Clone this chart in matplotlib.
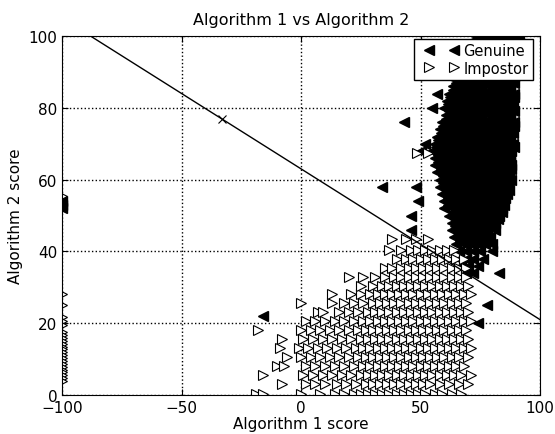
import numpy as np
import matplotlib
matplotlib.use("Agg")
import matplotlib.pyplot as plt
from matplotlib.legend_handler import HandlerLine2D

# Genuine scores (filled triangles)
gen_row_y = [100, 99, 98, 97, 96, 95, 94, 93, 92, 91, 90, 89, 88, 87, 86, 85, 84, 83, 82, 81,
             80, 79, 78, 77, 76, 75, 74, 73, 72, 71, 70, 69, 68, 67, 66, 65, 64, 63, 62, 61,
             60, 59, 58, 57, 56, 55, 54, 53, 52, 51, 50, 49, 48, 47, 46, 45, 44, 43, 42,
             40, 38, 36, 34, 25, 22, 20]
gen_row_x = [
    [73, 76, 79, 82, 85, 88, 91],
    [72.5, 75.5, 78.5, 81.5, 84.5, 87.5, 90],
    [71, 74, 77, 80, 83, 86, 89],
    [71, 74, 77, 80, 83, 86, 89],
    [69.5, 72.5, 75.5, 78.5, 81.5, 84.5, 87.5],
    [69.5, 72.5, 75.5, 78.5, 81.5, 84.5, 87.5],
    [68, 71, 74, 77, 80, 83, 86, 89],
    [68.5, 71.5, 74.5, 77.5, 80.5, 83.5, 86.5, 89],
    [67, 70, 73, 76, 79, 82, 85, 88],
    [67, 70, 73, 76, 79, 82, 85, 88],
    [65.5, 68.5, 71.5, 74.5, 77.5, 80.5, 83.5, 86.5, 89],
    [65.5, 68.5, 71.5, 74.5, 77.5, 80.5, 83.5, 86.5, 89],
    [64, 67, 70, 73, 76, 79, 82, 85, 88],
    [65, 68, 71, 74, 77, 80, 83, 86, 89],
    [63.5, 66.5, 69.5, 72.5, 75.5, 78.5, 81.5, 84.5, 87.5],
    [63.5, 66.5, 69.5, 72.5, 75.5, 78.5, 81.5, 84.5, 87.5],
    [57, 62, 65, 68, 71, 74, 77, 80, 83, 86, 89],
    [62.5, 65.5, 68.5, 71.5, 74.5, 77.5, 80.5, 83.5, 86.5, 89],
    [61, 64, 67, 70, 73, 76, 79, 82, 85, 88],
    [61.5, 64.5, 67.5, 70.5, 73.5, 76.5, 79.5, 82.5, 85.5, 88.5],
    [55, 60, 63, 66, 69, 72, 75, 78, 81, 84, 87],
    [62, 65, 68, 71, 74, 77, 80, 83, 86, 89],
    [60.5, 63.5, 66.5, 69.5, 72.5, 75.5, 78.5, 81.5, 84.5, 87.5],
    [60.5, 63.5, 66.5, 69.5, 72.5, 75.5, 78.5, 81.5, 84.5, 87.5],
    [43, 59, 62, 65, 68, 71, 74, 77, 80, 83, 86, 89],
    [59.5, 62.5, 65.5, 68.5, 71.5, 74.5, 77.5, 80.5, 83.5, 86.5, 89],
    [58, 61, 64, 67, 70, 73, 76, 79, 82, 85, 88],
    [58.5, 61.5, 64.5, 67.5, 70.5, 73.5, 76.5, 79.5, 82.5, 85.5, 88.5],
    [57, 60, 63, 66, 69, 72, 75, 78, 81, 84, 87],
    [57.5, 60.5, 63.5, 66.5, 69.5, 72.5, 75.5, 78.5, 81.5, 84.5, 87.5],
    [52, 56, 59, 62, 65, 68, 71, 74, 77, 80, 83, 86, 88.5],
    [56.5, 59.5, 62.5, 65.5, 68.5, 71.5, 74.5, 77.5, 80.5, 83.5, 86.5, 89],
    [50, 55, 58, 61, 64, 67, 70, 73, 76, 79, 82, 85, 88],
    [57.5, 60.5, 63.5, 66.5, 69.5, 72.5, 75.5, 78.5, 81.5, 84.5, 87.5],
    [56, 59, 62, 65, 68, 71, 74, 77, 80, 83, 86],
    [57.5, 60.5, 63.5, 66.5, 69.5, 72.5, 75.5, 78.5, 81.5, 84.5, 87.5],
    [56, 59, 62, 65, 68, 71, 74, 77, 80, 83, 86, 88],
    [58.5, 61.5, 64.5, 67.5, 70.5, 73.5, 76.5, 79.5, 82.5, 85.5, 88],
    [57, 60, 63, 66, 69, 72, 75, 78, 81, 84, 87],
    [59.5, 62.5, 65.5, 68.5, 71.5, 74.5, 77.5, 80.5, 83.5, 86.5],
    [58, 61, 64, 67, 70, 73, 76, 79, 82, 85, 88],
    [59.5, 62.5, 65.5, 68.5, 71.5, 74.5, 77.5, 80.5, 83.5, 86.5],
    [34, 48, 58, 61, 64, 67, 70, 73, 76, 79, 82, 85],
    [60.5, 63.5, 66.5, 69.5, 72.5, 75.5, 78.5, 81.5, 84.5, 87],
    [59, 62, 65, 68, 71, 74, 77, 80, 83, 86],
    [61.5, 64.5, 67.5, 70.5, 73.5, 76.5, 79.5, 82.5, 85.5],
    [49, 60, 63, 66, 69, 72, 75, 78, 81, 84, -100],
    [61.5, 64.5, 67.5, 70.5, 73.5, 76.5, 79.5, 82.5, 85, -100],
    [60, 63, 66, 69, 72, 75, 78, 81, 84, -100],
    [63.5, 66.5, 69.5, 72.5, 75.5, 78.5, 81.5, 84],
    [46, 62, 65, 68, 71, 74, 77, 80, 83],
    [64.5, 67.5, 70.5, 73.5, 76.5, 79.5, 82.5],
    [63, 66, 69, 72, 75, 78, 81],
    [64.5, 67.5, 70.5, 73.5, 76.5, 79.5],
    [46, 63, 66, 69, 72, 75, 78, 81],
    [65.5, 68.5, 71.5, 74.5, 77.5],
    [64, 67, 70, 73, 76, 79],
    [66.5, 69.5, 72.5, 75.5, 78.5],
    [65, 68, 71, 74, 77, 80],
    [66, 69, 72, 75, 80],
    [66, 69, 72, 76],
    [67, 70, 74],
    [69, 72, 83],
    [78],
    [-16],
    [74],
]

# Impostor scores (open triangles)
imp_row_y = [0.3, 3, 5.5, 8, 10.5, 13, 15.5, 18, 20.5, 23, 25.5, 28, 30.5, 33, 35.5,
             38, 40.5, 43.5, 67.5]
imp_row_x = [
    [-19, -16, 0, 8, 14, 18, 22, 25, 28, 31, 34, 37, 40, 43, 46, 49, 52, 56, 59, 63, 67],
    [-8, 2, 6, 10, 15, 19, 23, 27, 30, 33, 36, 39, 42, 45, 48, 51, 54, 58, 62, 66, 70],
    [-16, 1, 5, 9, 13, 17, 21, 25, 28, 31, 34, 37, 40, 43, 46, 49, 52, 55, 58, 61, 64, 67, 71],
    [-10, -7, 2, 6, 10, 14, 18, 22, 26, 29, 32, 35, 38, 41, 44, 47, 50, 53, 56, 59, 62, 65, 68],
    [-6, 0, 4, 8, 12, 16, 20, 24, 27, 30, 33, 36, 39, 42, 45, 48, 51, 54, 57, 60, 63, 66, 70],
    [-9, -1, 3, 7, 11, 15, 19, 23, 26, 29, 32, 35, 38, 41, 44, 47, 50, 53, 56, 59, 62, 65, 68, 71],
    [-8, 1, 5, 9, 13, 17, 21, 25, 28, 31, 34, 37, 40, 43, 46, 49, 52, 55, 58, 61, 64, 67, 70],
    [-18, 0, 4, 8, 12, 16, 20, 24, 27, 30, 33, 36, 39, 42, 45, 48, 51, 54, 57, 60, 63, 66, 69],
    [2, 6, 10, 14, 18, 22, 26, 29, 32, 35, 38, 41, 44, 47, 50, 53, 56, 59, 62, 65, 68, 71],
    [7, 9, 16, 20, 24, 28, 31, 34, 37, 40, 43, 46, 49, 52, 55, 58, 61, 64, 67, 70],
    [0, 13, 18, 22, 26, 30, 33, 36, 39, 42, 45, 48, 51, 54, 57, 60, 63, 66, 69],
    [13, 21, 25, 29, 32, 35, 38, 41, 44, 47, 50, 53, 56, 59, 62, 65, 68, 71],
    [25, 30, 34, 37, 40, 43, 46, 49, 52, 55, 58, 61, 64, 67, 70],
    [20, 26, 31, 35, 39, 42, 45, 48, 51, 54, 57, 60, 63, 66, 69],
    [35, 38, 42, 45, 48, 51, 54, 57, 60, 63, 66, 69],
    [40, 44, 47, 50, 53, 56, 59, 62, 65, 68],
    [37, 42, 46, 49, 52, 55, 58, 61, 64],
    [38, 44, 48, 53],
    [48.5, 53],
]
# impostor scores stuck at -100
imp_edge_y = [55.5, 28, 25, 21.7, 20.5, 19.5, 17.5, 16.7, 15.9, 15.1, 14.3, 13.5, 12.7,
              11.9, 11.1, 10.3, 9.5, 8.7, 7.9, 7.1, 6.3, 5.5, 4.7, 3.9]

# decision line and its marked point
line_x = [-100, 100]
line_y = [105, 21]
mark_x = [-33]
mark_y = [77]

# flatten the rows
gx, gy = [], []
for y, xs in zip(gen_row_y, gen_row_x):
    for x in xs:
        gx.append(x)
        gy.append(y)

ix, iy = [], []
for y, xs in zip(imp_row_y, imp_row_x):
    for x in xs:
        ix.append(x)
        iy.append(y)
for y in imp_edge_y:
    ix.append(-100)
    iy.append(y)

fig = plt.figure(figsize=(5.55, 4.35), dpi=100)
ax = fig.add_axes([0.112, 0.0897, 0.861, 0.825])

gen_line, = ax.plot(gx, gy, '<', color='k', markersize=6.5, label='Genuine')
imp_line, = ax.plot(ix, iy, '>', markerfacecolor='white', markeredgecolor='k', markersize=6.5,
                    markeredgewidth=0.8, linestyle='none', label='Impostor')
ax.plot(line_x, line_y, '-', color='k', linewidth=1)
ax.plot(mark_x, mark_y, 'x', color='k', markersize=6, markeredgewidth=0.8)

ax.set_xlim(-100, 100)
ax.set_ylim(0, 100)
ax.set_xticks([-100, -50, 0, 50, 100])
ax.set_yticks([0, 20, 40, 60, 80, 100])
ax.grid(True, linestyle=':', color='k', linewidth=1)
ax.tick_params(direction='in', top=True, right=True, labelsize=11, length=4)

ax.set_title('Algorithm 1 vs Algorithm 2', fontsize=11.5, pad=9)
ax.set_xlabel('Algorithm 1 score', fontsize=11, labelpad=1)
ax.set_ylabel('Algorithm 2 score', fontsize=11, labelpad=4)

hm = {gen_line: HandlerLine2D(marker_pad=0.7), imp_line: HandlerLine2D(marker_pad=0.7)}
leg = ax.legend(loc='upper right', bbox_to_anchor=(0.985, 0.992), borderaxespad=0,
                numpoints=2, fontsize=10.5, fancybox=False, framealpha=1, edgecolor='k',
                handlelength=3.1, handletextpad=-0.05, borderpad=0.3, labelspacing=0.15,
                handler_map=hm)
leg.get_frame().set_linewidth(1)

fig.savefig('out.png', dpi=100)
